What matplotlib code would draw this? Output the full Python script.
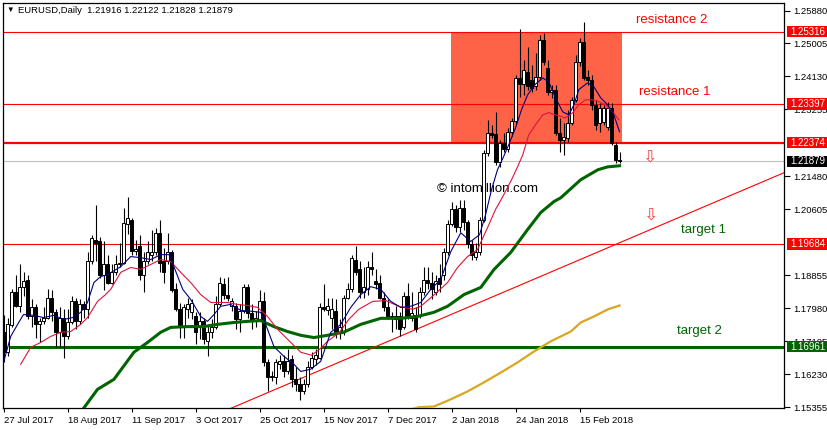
import matplotlib
matplotlib.use('Agg')
import matplotlib.pyplot as plt
import matplotlib.transforms as mtransforms
from matplotlib.patches import Rectangle

plt.rcParams['font.family'] = ['Liberation Sans', 'DejaVu Sans']

# EURUSD daily bars, 27 Jul 2017 .. 1 Mar 2018 (bar index = position on chart)
opens = [
    1.1736, 1.1681, 1.1752, 1.1842, 1.1805, 1.1855, 1.1874, 1.1776, 1.1800, 1.1755,
    1.1763, 1.1773, 1.1826, 1.1787, 1.1736, 1.1771, 1.1723, 1.1760, 1.1816, 1.1763,
    1.1808, 1.1795, 1.1922, 1.1980, 1.1975, 1.1887, 1.1914, 1.1866, 1.1893, 1.1914,
    1.1919, 1.2022, 1.2033, 1.1951, 1.1964, 1.1887, 1.1922, 1.1938, 1.1948, 1.1998,
    1.1922, 1.1922, 1.1948, 1.1848, 1.1795, 1.1749, 1.1795, 1.1787, 1.1776, 1.1749,
    1.1763, 1.1712, 1.1734, 1.1747, 1.1810, 1.1861, 1.1834, 1.1803, 1.1803, 1.1768,
    1.1790, 1.1855, 1.1784, 1.1763, 1.1768, 1.1816, 1.1654, 1.1614, 1.1614, 1.1649,
    1.1657, 1.1630, 1.1662, 1.1609, 1.1598, 1.1577, 1.1598, 1.1643, 1.1662, 1.1667,
    1.1800, 1.1792, 1.1773, 1.1790, 1.1736, 1.1736, 1.1826, 1.1848, 1.1927, 1.1901,
    1.1840, 1.1848, 1.1908, 1.1869, 1.1866, 1.1826, 1.1800, 1.1776, 1.1776, 1.1776,
    1.1747, 1.1829, 1.1773, 1.1781, 1.1781, 1.1842, 1.1874, 1.1866, 1.1840, 1.1879,
    1.1887, 1.1948, 1.2022, 1.2060, 1.2014, 1.2065, 1.2028, 1.1967, 1.1935, 1.1948,
    1.2033, 1.2211, 1.2264, 1.2261, 1.2187, 1.2237, 1.2221, 1.2266, 1.2295, 1.2409,
    1.2393, 1.2425, 1.2404, 1.2388, 1.2412, 1.2510, 1.2436, 1.2372, 1.23775, 1.2264,
    1.2245, 1.2250, 1.2290, 1.2351, 1.2452, 1.2505, 1.2412, 1.2404, 1.2338, 1.2290,
    1.2293, 1.2280, 1.2330, 1.2232, 1.21916]
highs = [
    1.1781, 1.1773, 1.1850, 1.1887, 1.1914, 1.1895, 1.1887, 1.1821, 1.1808, 1.1773,
    1.1800, 1.1850, 1.18475, 1.1795, 1.1800, 1.1795, 1.1795, 1.1829, 1.1826, 1.1821,
    1.1816, 1.1946, 1.1993, 1.2073, 1.1988, 1.1975, 1.1940, 1.1914, 1.1940, 1.1972,
    1.2065, 1.2094, 1.2038, 1.1980, 1.1993, 1.1946, 1.1975, 1.20065, 1.2012, 1.2033,
    1.1959, 1.1998, 1.19535, 1.1866, 1.1813, 1.1808, 1.1826, 1.1821, 1.1789, 1.1789,
    1.1773, 1.1755, 1.1768, 1.1829, 1.1882, 1.1879, 1.1882, 1.1826, 1.1813, 1.1808,
    1.1861, 1.1861, 1.1808, 1.1790, 1.18475, 1.1840, 1.1662, 1.1630, 1.1662, 1.1675,
    1.1675, 1.16885, 1.1675, 1.1641, 1.1614, 1.1609, 1.1657, 1.1681, 1.16885, 1.1813,
    1.1861, 1.1826, 1.1826, 1.1821, 1.1768, 1.1834, 1.1866, 1.1940, 1.1962, 1.1922,
    1.1906, 1.1922, 1.1946, 1.1901, 1.1885, 1.1840, 1.1821, 1.1787, 1.1803, 1.1787,
    1.1840, 1.1866, 1.1840, 1.1800, 1.1855, 1.1906, 1.1906, 1.1893, 1.1887, 1.1914,
    1.1959, 1.2033, 1.2081, 1.2073, 1.2086, 1.2086, 1.2033, 1.1980, 1.1972, 1.2041,
    1.22185, 1.2298, 1.2285, 1.2319, 1.2245, 1.2264, 1.2277, 1.2303, 1.2417, 1.2539,
    1.2457, 1.2491, 1.2444, 1.2476, 1.2523, 1.2529, 1.2457, 1.2391, 1.2391, 1.2303,
    1.2290, 1.23245, 1.2359, 1.2470, 1.2515, 1.2558, 1.24305, 1.2417, 1.2351, 1.2343,
    1.2338, 1.2346, 1.2343, 1.2240, 1.22122]
lows = [
    1.1654, 1.1670, 1.1747, 1.1800, 1.1787, 1.1829, 1.1768, 1.1749, 1.1720, 1.1707,
    1.1755, 1.1768, 1.1763, 1.1694, 1.1694, 1.1667, 1.1715, 1.1755, 1.1742, 1.1755,
    1.1773, 1.1773, 1.1914, 1.1922, 1.1879, 1.18475, 1.1861, 1.1861, 1.1885, 1.1906,
    1.1914, 1.1994, 1.1940, 1.1938, 1.1874, 1.1842, 1.1914, 1.1922, 1.1940, 1.1895,
    1.1866, 1.1914, 1.1842, 1.1790, 1.1720, 1.1720, 1.1773, 1.1768, 1.1702, 1.1715,
    1.1702, 1.1670, 1.1720, 1.1742, 1.1805, 1.1821, 1.1816, 1.1790, 1.1742, 1.1736,
    1.1784, 1.1773, 1.1742, 1.1747, 1.1763, 1.1644, 1.1577, 1.1604, 1.1598, 1.16355,
    1.1614, 1.1622, 1.1588, 1.1577, 1.1553, 1.1569, 1.1588, 1.16355, 1.1646, 1.1662,
    1.1790, 1.1781, 1.1742, 1.1720, 1.1715, 1.1728, 1.1821, 1.1842, 1.1887, 1.1826,
    1.1826, 1.1834, 1.1887, 1.1848, 1.1821, 1.1790, 1.1768, 1.1734, 1.1742, 1.1723,
    1.1742, 1.1768, 1.1763, 1.1734, 1.1773, 1.1834, 1.1848, 1.1821, 1.1834, 1.1842,
    1.1874, 1.1940, 1.2017, 1.2001, 1.2001, 1.20065, 1.1959, 1.1927, 1.1927, 1.1938,
    1.2028, 1.2203, 1.2250, 1.2179, 1.2174, 1.2213, 1.2213, 1.2256, 1.2287, 1.2359,
    1.2364, 1.23775, 1.2372, 1.23775, 1.2404, 1.2444, 1.2364, 1.2356, 1.2258, 1.2213,
    1.2205, 1.2240, 1.2285, 1.2346, 1.2441, 1.2404, 1.2391, 1.23245, 1.22715, 1.2266,
    1.2285, 1.22715, 1.2232, 1.2184, 1.21828]
closes = [
    1.1681, 1.1755, 1.1842, 1.1805, 1.1855, 1.1871, 1.1776, 1.1800, 1.1755, 1.1763,
    1.1773, 1.1826, 1.1787, 1.1736, 1.1771, 1.1723, 1.1760, 1.1816, 1.1763, 1.1808,
    1.1795, 1.1922, 1.1983, 1.1972, 1.1885, 1.1914, 1.1866, 1.1895, 1.1914, 1.1919,
    1.2025, 1.2036, 1.1951, 1.1956, 1.1887, 1.1922, 1.1948, 1.1948, 1.1998, 1.1919,
    1.1893, 1.1948, 1.18475, 1.17945, 1.1747, 1.1800, 1.1808, 1.1813, 1.1734, 1.1763,
    1.1715, 1.1736, 1.1747, 1.1810, 1.1866, 1.1832, 1.1824, 1.1816, 1.1768, 1.1790,
    1.1855, 1.1784, 1.1763, 1.1773, 1.1816, 1.1654, 1.1614, 1.1617, 1.1654, 1.1657,
    1.1630, 1.1659, 1.1609, 1.1598, 1.1577, 1.1598, 1.1643, 1.1667, 1.1675, 1.1800,
    1.17945, 1.1803, 1.1795, 1.1736, 1.1747, 1.1826, 1.1848, 1.1932, 1.1895, 1.1840,
    1.1853, 1.1906, 1.1901, 1.1861, 1.1826, 1.1800, 1.1776, 1.1775, 1.1768, 1.1742,
    1.1829, 1.1776, 1.1784, 1.1742, 1.1840, 1.1874, 1.1866, 1.1848, 1.1869, 1.1861,
    1.1948, 1.2022, 1.2060, 1.2014, 1.2065, 1.2028, 1.1967, 1.1940, 1.1948, 1.2033,
    1.2211, 1.2264, 1.2258, 1.2187, 1.2237, 1.2221, 1.2266, 1.2295, 1.2409, 1.2393,
    1.24305, 1.2388, 1.2383, 1.2412, 1.2510, 1.2452, 1.2372, 1.23775, 1.2264, 1.2245,
    1.2253, 1.2290, 1.2351, 1.2452, 1.2505, 1.2409, 1.2404, 1.2338, 1.2285, 1.2330,
    1.2330, 1.2330, 1.2237, 1.2192, 1.21879]

date_bars = [0, 16, 32, 48, 64, 80, 96, 112, 128, 144]
date_labels = ['27 Jul 2017', '18 Aug 2017', '11 Sep 2017', '3 Oct 2017', '25 Oct 2017',
               '15 Nov 2017', '7 Dec 2017', '2 Jan 2018', '24 Jan 2018', '15 Feb 2018']

# moving averages (bar position, price)
fast_x = [0, 1.8, 3.8, 5, 7.6, 10, 12.6, 15, 17.3, 19.3, 21, 22.6, 24.3, 26, 29.3, 31.8,
          34.3, 36.8, 39.3, 41.4, 42.6, 44.8, 46.8, 49.3, 51, 52.6, 54.3, 56.8, 59.3, 61.8,
          64.3, 66, 67.6, 70.1, 72.6, 74.3, 76.8, 79.3, 81.8, 84.3, 86.8, 89.3, 91.8, 94.3,
          96.8, 99.3, 101.8, 104.3, 106.8, 109.3, 111.8, 114.3, 116.8, 119, 120.5, 122,
          123.5, 125, 126.5, 128, 129.5, 131, 133, 134.8, 136.3, 138, 139.8, 141.3, 142.6,
          143.8, 146, 147.6, 149.3, 151, 152.3, 154]
fast_y = [1.1654, 1.1723, 1.1760, 1.1781, 1.1779, 1.1773, 1.1779, 1.1768, 1.1773, 1.1787,
          1.1813, 1.1866, 1.1882, 1.1887, 1.1908, 1.1935, 1.1932, 1.1927, 1.1940, 1.1940,
          1.1908, 1.1848, 1.1821, 1.1776, 1.1763, 1.1781, 1.1803, 1.1808, 1.1792, 1.1790,
          1.1787, 1.1742, 1.1696, 1.1670, 1.1649, 1.1630, 1.1636, 1.1657, 1.1734, 1.1755,
          1.1800, 1.1834, 1.1855, 1.1848, 1.1816, 1.1800, 1.1803, 1.1813, 1.1848, 1.1874,
          1.1948, 1.1998, 1.1975, 1.1993, 1.2046, 1.2113, 1.2166, 1.2200, 1.2237, 1.2277,
          1.2325, 1.2364, 1.2393, 1.2409, 1.2399, 1.2356, 1.2319, 1.2311, 1.2338, 1.2378,
          1.2396, 1.2385, 1.2356, 1.2338, 1.2319, 1.2266]

mid_x = [4.3, 6.8, 9.3, 11.8, 14.3, 16.8, 19.3, 21, 23.5, 25.5, 26.8, 29.3, 31.8, 34.3,
         36.8, 39.3, 41.8, 44.3, 46.8, 49.3, 51.8, 56, 58.5, 61, 63.5, 66, 68.5, 71.8, 74.3,
         77, 79, 81, 84, 86.3, 88.8, 92.3, 95.6, 98.8, 102.3, 104.3, 107.5, 111, 113.5, 116,
         118.5, 121, 123, 124.8, 127, 128.5, 129.8, 131.3, 133, 134.8, 136.3, 138, 140.5,
         142.3, 143.8, 145.5, 147.3, 148.8, 150.5, 152.3, 153.8]
mid_y = [1.1649, 1.1694, 1.1707, 1.1723, 1.1734, 1.1736, 1.1755, 1.1773, 1.1816, 1.1834,
         1.1848, 1.1893, 1.1906, 1.1901, 1.1914, 1.1927, 1.1922, 1.1893, 1.1866, 1.1834,
         1.1813, 1.1813, 1.1808, 1.1805, 1.1800, 1.1776, 1.1742, 1.1707, 1.1681, 1.1673,
         1.1689, 1.1710, 1.1734, 1.1768, 1.1795, 1.1816, 1.1818, 1.1803, 1.1795, 1.1803,
         1.1832, 1.1866, 1.1906, 1.1935, 1.1954, 1.2012, 1.2060, 1.2094, 1.2139, 1.2173,
         1.2205, 1.2258, 1.2285, 1.2311, 1.2317, 1.2311, 1.2303, 1.2317, 1.2338, 1.2351,
         1.2351, 1.2346, 1.2338, 1.2319, 1.2298]

slow_x = [17.5, 19.8, 23.5, 27.6, 32.6, 36, 39.3, 41.8, 46, 50, 53.5, 57.6, 61, 64.3, 67.6,
          71, 74.3, 77.6, 81, 85, 89.3, 94.3, 99.3, 103.5, 107.6, 111, 115.1, 119.3, 122.6,
          126.8, 131, 134.3, 137.6, 139.3, 144.3, 148.6, 151, 154]
slow_y = [1.1508, 1.1529, 1.15825, 1.1609, 1.1681, 1.1707, 1.1734, 1.1747, 1.1749, 1.1749,
          1.1755, 1.1760, 1.1763, 1.1765, 1.1749, 1.1736, 1.1726, 1.1720, 1.1726, 1.1734,
          1.1755, 1.1771, 1.1771, 1.1776, 1.1787, 1.1803, 1.1834, 1.1853, 1.19005, 1.1946,
          1.20065, 1.2052, 1.2081, 1.2091, 1.2139, 1.21655, 1.2173, 1.2176]

long_x = [100, 103.8, 107.6, 111.8, 116, 120.1, 124.3, 128.5, 132.6, 136.8, 139.3, 141.8,
          144.3, 147.6, 151, 154]
long_y = [1.1524, 1.1535, 1.1537, 1.1556, 1.1577, 1.1601, 1.1627, 1.1654, 1.1683, 1.1710,
          1.1723, 1.1736, 1.1760, 1.1776, 1.17945, 1.1805]

# support / resistance levels and trend line
levels = [1.25316, 1.23397, 1.22374, 1.19684, 1.16961]
level_colors = ['#ff0000', '#ff0000', '#ff0000', '#ff0000', '#006400']
level_widths = [0.8, 0.8, 1.6, 0.8, 2.2]
bid = 1.21879
trend_x = [56.8, 195.2]
trend_y = [1.1532, 1.2158]
zone_x = [111.9, 154.6]
zone_y = [1.22374, 1.25316]

# scale labels (the ones under the level boxes are hidden in the original)
tick_values = [1.25880, 1.25005, 1.24130, 1.23255, 1.21480, 1.20605,
               1.18855, 1.17980, 1.17105, 1.16230, 1.15355]
tick_labels = ['%.5f' % v for v in tick_values]

box_prices = [1.25316, 1.23397, 1.22374, 1.21879, 1.19684, 1.16961]
box_colors = ['#ff0000', '#ff0000', '#ff0000', '#000000', '#ff0000', '#006400']

notes = ['resistance 2', 'resistance 1', 'target 1', 'target 2']
note_x = [167.1, 167.9, 174.9, 173.9]
note_y = [1.25628, 1.23717, 1.20054, 1.17373]
note_colors = ['#ff0000', '#ff0000', '#006400', '#006400']
arrow_x = [161.4, 161.6]
arrow_y = [1.21991, 1.20452]


fig = plt.figure(figsize=(8.27, 4.30), dpi=100)
ax = fig.add_axes([3 / 827, 22 / 430, 781 / 827, 405 / 430])
ax.set_xlim(-0.125, 195.1)
ax.set_ylim(1.1533, 1.2608)

ax.add_patch(Rectangle((zone_x[0], zone_y[0]), zone_x[1] - zone_x[0], zone_y[1] - zone_y[0],
                       facecolor='tomato', edgecolor='none', zorder=1))

for lv, col, lw in zip(levels, level_colors, level_widths):
    ax.axhline(lv, color=col, lw=lw, zorder=1.5)
ax.axhline(bid, color='#c0c0c0', lw=0.8, zorder=1.5)
ax.plot(trend_x, trend_y, color='#ff0000', lw=0.8, zorder=1.6)

# candles
xs = list(range(len(closes)))
ax.vlines(xs, lows, highs, color='black', lw=0.8, zorder=2.9)
bottoms = [min(o, c) for o, c in zip(opens, closes)]
heights = [max(abs(c - o), 0.00004) for o, c in zip(opens, closes)]
fills = ['white' if c >= o else 'black' for o, c in zip(opens, closes)]
ax.bar(xs, heights, bottom=bottoms, width=0.55, color=fills, edgecolor='black',
       linewidth=0.7, zorder=3)

ax.plot(long_x, long_y, color='#daa520', lw=1.6, zorder=4)
ax.plot(slow_x, slow_y, color='#006400', lw=2.2, zorder=4)
ax.plot(mid_x, mid_y, color='#dc143c', lw=0.8, zorder=4)
ax.plot(fast_x, fast_y, color='#000080', lw=0.8, zorder=4)

ax.text(120.9, 1.21142, '\u00a9 intomillion.com', fontsize=9.5, color='black',
        ha='center', va='center', zorder=2.5)
for t, x, y, c in zip(notes, note_x, note_y, note_colors):
    ax.text(x, y, t, fontsize=9.5, color=c, ha='center', va='center', zorder=5)
for x, y in zip(arrow_x, arrow_y):
    ax.text(x, y, '\u21e9', fontsize=12.5, color='#ff4040', ha='center', va='center',
            family=['DejaVu Sans'], zorder=5)

# axes look
for s in ax.spines.values():
    s.set_linewidth(0.9)
    s.set_color('black')
ax.yaxis.tick_right()
ax.set_yticks(tick_values)
ax.set_yticklabels(tick_labels)
ax.tick_params(axis='y', direction='out', length=4, width=0.8, pad=3, labelsize=6.8)
ax.set_xticks(date_bars)
ax.set_xticklabels(date_labels, ha='left')
ax.tick_params(axis='x', direction='out', length=3, width=0.8, pad=3, labelsize=6.8)

# price boxes on the right scale
trans = mtransforms.blended_transform_factory(ax.transAxes, ax.transData)
box_h = 0.0030
for p, c in zip(box_prices, box_colors):
    ax.add_patch(Rectangle((1.0040, p - box_h / 2), 0.052, box_h, facecolor=c,
                           edgecolor='none', transform=trans, clip_on=False, zorder=6))
    ax.text(1.0085, p, '%.5f' % p, color='white', fontsize=7, ha='left', va='center',
            transform=trans, clip_on=False, zorder=7)

fig.text(6 / 827, 1 - 10.5 / 430, '\u25bc', fontsize=5.5, va='center', ha='left')
fig.text(18 / 827, 1 - 10.5 / 430, 'EURUSD,Daily  1.21916 1.22122 1.21828 1.21879',
         fontsize=6.8, va='center', ha='left')

fig.savefig('out.png', dpi=100)
